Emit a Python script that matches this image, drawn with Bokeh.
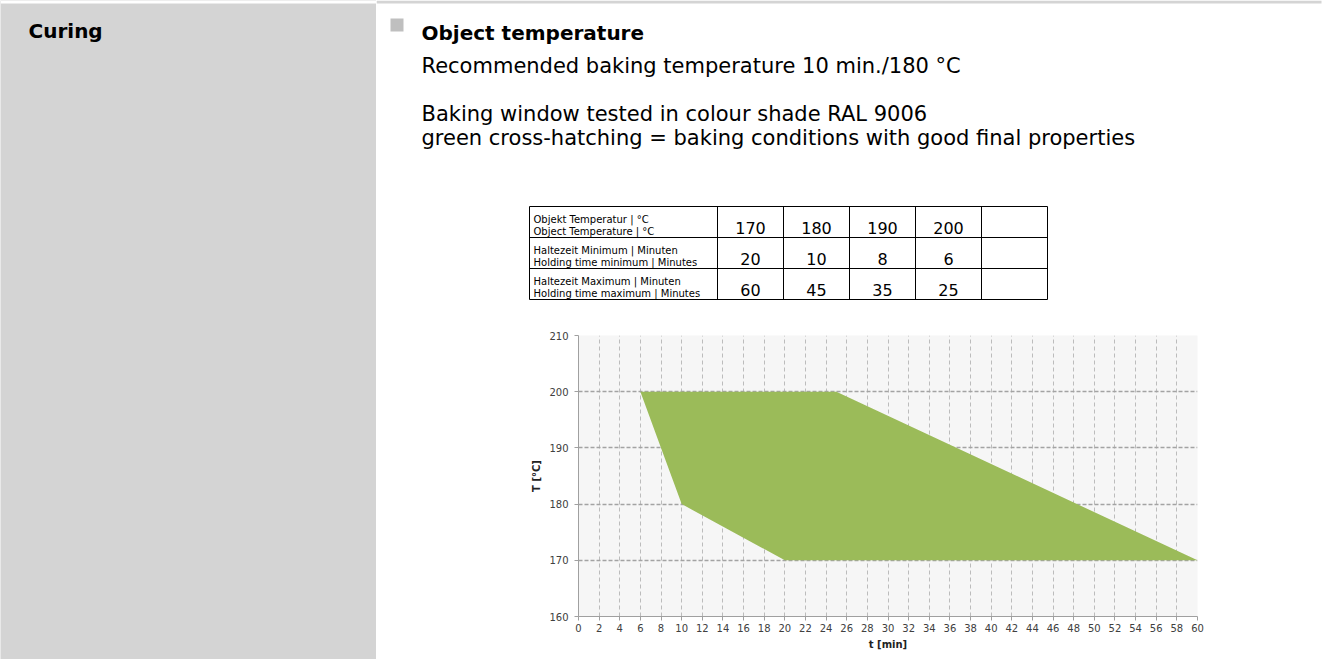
from bokeh.plotting import figure
from bokeh.layouts import row, column
from bokeh.models import Range1d, FixedTicker
from bokeh.core.properties import value
from bokeh.embed import file_html
from bokeh.resources import INLINE

# ---------------- data ----------------
section_title = "Curing"
heading = "Object temperature"
body_lines = [
    "Recommended baking temperature 10 min./180 °C",
    "Baking window tested in colour shade RAL 9006",
    "green cross-hatching = baking conditions with good final properties",
]
row_labels = [
    ("Objekt Temperatur | °C", "Object Temperature | °C"),
    ("Haltezeit Minimum | Minuten", "Holding time minimum | Minutes"),
    ("Haltezeit Maximum | Minuten", "Holding time maximum | Minutes"),
]
temps = [170, 180, 190, 200]
hold_min = [20, 10, 8, 6]
hold_max = [60, 45, 35, 25]

# baking window polygon (t in min, T in °C)
window_t = [6, 25, 60, 20, 10, 8]
window_T = [200, 200, 170, 170, 180, 190]

x_ticks = list(range(0, 61, 2))
y_ticks = [160, 170, 180, 190, 200, 210]
x_title = "t [min]"
y_title = "T [°C]"

FONT = "DejaVu Sans"
GRAY = "#d4d4d4"
GREEN = "#9bbb59"

TOTAL_W, TOTAL_H = 1329, 659


def blank(width, height, bg="#ffffff"):
    f = figure(width=width, height=height, x_range=Range1d(0, width),
               y_range=Range1d(height, 0), x_axis_type=None, y_axis_type=None,
               output_backend="svg", toolbar_location=None, min_border=0,
               frame_align=False)
    f.grid.visible = False
    f.outline_line_color = None
    f.background_fill_color = bg
    f.border_fill_color = bg
    return f


# ---------------- left grey column ----------------
LW = 376
left = blank(LW, TOTAL_H, GRAY)
left.quad(left=[0], right=[LW], top=[0], bottom=[3], fill_color="#ffffff", line_color=None)
left.text(x=[28], y=[30.5], text=[section_title], text_font=value(FONT),
          text_font_size=value("20px"), text_font_style="bold",
          text_baseline="alphabetic", text_color="#000000")

# ---------------- header (texts + table) ----------------
RW = TOTAL_W - LW
HH = 308
hdr = blank(RW, HH)
hdr.quad(left=[0], right=[945], top=[0], bottom=[3], fill_color=GRAY, line_color=None)
hdr.quad(left=[14], right=[27], top=[18], bottom=[31], fill_color="#bfbfbf", line_color=None)

hdr.text(x=[45], y=[32], text=[heading], text_font=value(FONT),
         text_font_size=value("20px"), text_font_style="bold",
         text_baseline="alphabetic", text_color="#000000")
hdr.text(x=[45, 45, 45], y=[65, 113, 137], text=body_lines, text_font=value(FONT),
         text_font_size=value("21px"), text_baseline="alphabetic", text_color="#000000")

# table geometry (header pixel coordinates)
t_left, t_right = 153, 671
col_edges = [341, 407, 473, 539, 605]
row_edges = [206, 237, 268, 299]
hdr.segment(x0=[t_left] * len(row_edges), y0=row_edges,
            x1=[t_right] * len(row_edges), y1=row_edges,
            line_color="#000000", line_width=1)
vx = [t_left] + col_edges + [t_right]
hdr.segment(x0=vx, y0=[row_edges[0]] * len(vx), x1=vx, y1=[row_edges[-1]] * len(vx),
            line_color="#000000", line_width=1)

lab_x, lab_y, lab_t = [], [], []
for i, (de, en) in enumerate(row_labels):
    top = row_edges[i]
    lab_x += [157, 157]
    lab_y += [top + 13, top + 25]
    lab_t += [de, en]
hdr.text(x=lab_x, y=lab_y, text=lab_t, text_font=value(FONT),
         text_font_size=value("10px"), text_baseline="alphabetic", text_color="#000000")

val_x, val_y, val_t = [], [], []
for i, series in enumerate([temps, hold_min, hold_max]):
    cy = (row_edges[i] + row_edges[i + 1]) / 2 + 6
    for j, v in enumerate(series):
        val_x.append((col_edges[j] + col_edges[j + 1]) / 2)
        val_y.append(cy)
        val_t.append(str(v))
hdr.text(x=val_x, y=val_y, text=val_t, text_font=value(FONT),
         text_font_size=value("16px"), text_align="center",
         text_baseline="alphabetic", text_color="#000000")

# ---------------- chart ----------------
CH = 349
p = figure(width=RW, height=CH, x_range=Range1d(0, 60), y_range=Range1d(160, 210),
           output_backend="svg", toolbar_location=None, frame_align=False,
           min_border_left=202, min_border_right=RW - 202 - 619,
           min_border_top=27, min_border_bottom=41)
p.background_fill_color = "#f6f6f6"
p.border_fill_color = "#ffffff"
p.outline_line_color = None

p.patch(window_t, window_T, fill_color=GREEN, line_color=None)

p.xaxis.ticker = FixedTicker(ticks=x_ticks)
p.yaxis.ticker = FixedTicker(ticks=y_ticks)
p.xgrid.ticker = FixedTicker(ticks=x_ticks)
p.ygrid.ticker = FixedTicker(ticks=y_ticks)

p.xgrid.grid_line_color = "#bcbcbc"
p.xgrid.grid_line_dash = "4 3"
p.xgrid.grid_line_width = 1
p.ygrid.grid_line_color = "#a3a3a3"
p.ygrid.grid_line_dash = "4 2"
p.ygrid.grid_line_width = 1.5

for ax in (p.xaxis, p.yaxis):
    ax.axis_line_color = "#a0a0a0"
    ax.major_tick_line_color = "#a0a0a0"
    ax.minor_tick_line_color = None
    ax.major_tick_in = 0
    ax.major_tick_out = 4
    ax.major_label_text_font = FONT
    ax.major_label_text_font_size = "10px"
    ax.major_label_text_color = "#404040"
    ax.axis_label_text_font = FONT
    ax.axis_label_text_font_size = "10px"
    ax.axis_label_text_font_style = "bold"
    ax.axis_label_text_color = "#222222"

p.xaxis.axis_label = x_title
p.yaxis.axis_label = y_title
p.xaxis.major_label_standoff = 3
p.xaxis.axis_label_standoff = 4
p.yaxis.major_label_standoff = 6
p.yaxis.axis_label_standoff = 4

# ---------------- footer rule ----------------
foot = blank(RW, TOTAL_H - HH - CH)
foot.quad(left=[0], right=[945], top=[0], bottom=[2], fill_color=GRAY, line_color=None)

layout = row(left, column(hdr, p, foot))

open("out.html", "w").write(file_html(layout, INLINE))
